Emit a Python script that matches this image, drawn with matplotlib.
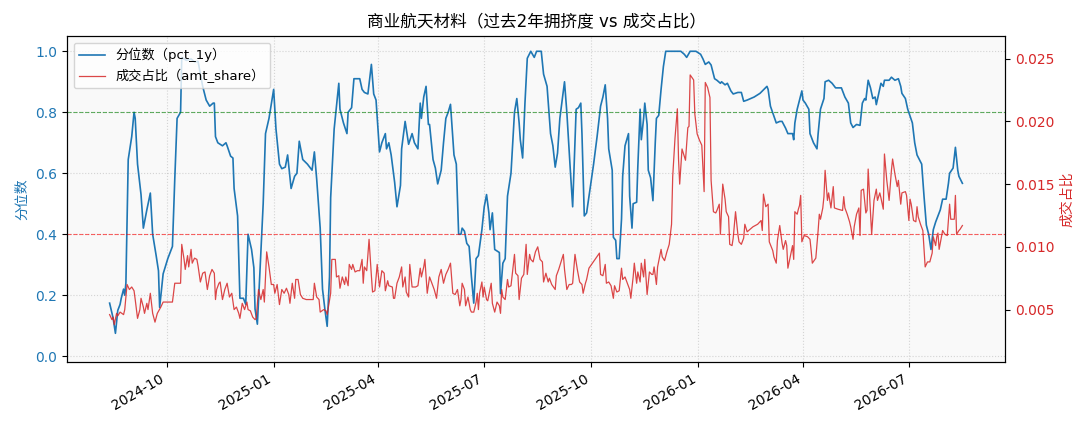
import matplotlib
matplotlib.use('Agg')
import matplotlib.pyplot as plt
import matplotlib.dates as mdates
import pandas as pd

# latin glyphs from DejaVu, CJK falls through to Noto
plt.rcParams['font.family'] = ['DejaVu Sans', 'Noto Sans CJK SC']
plt.rcParams['axes.unicode_minus'] = False

# data (day offsets from the first trading day)
start = pd.Timestamp('2024-08-13')

pct_days = [0, 3, 5, 7, 9, 10, 12, 13, 14, 16, 19, 21, 22, 24, 27, 29, 32, 35, 37, 40, 42, 43, 46, 50, 54, 56, 58, 61, 62, 66,
            70, 73, 76, 80, 83, 86, 89, 90, 91, 93, 97, 100, 101, 104, 106, 107, 110, 112, 115, 117, 119, 122, 124, 125, 127, 129,
            132, 134, 137, 141, 143, 146, 148, 151, 153, 156, 159, 161, 163, 166, 170, 174, 176, 178, 181, 183, 185, 187, 189, 190,
            193, 197, 198, 201, 204, 205, 208, 210, 215, 217, 219, 222, 225, 227, 229, 232, 234, 237, 238, 240, 242, 243, 245, 247,
            250, 251, 254, 257, 260, 262, 265, 267, 268, 270, 272, 274, 275, 278, 280, 282, 285, 287, 289, 291, 293, 296, 298, 300,
            302, 303, 305, 307, 309, 311, 313, 315, 317, 320, 322, 324, 326, 327, 329, 331, 335, 336, 338, 340, 342, 345, 347, 348,
            350, 352, 353, 355, 357, 359, 362, 365, 367, 371, 373, 376, 378, 379, 381, 383, 385, 387, 389, 391, 393, 396, 398, 400,
            401, 403, 405, 406, 408, 410, 413, 416, 419, 422, 424, 426, 428, 429, 432, 433, 435, 436, 438, 440, 441, 443, 446, 447,
            449, 450, 453, 454, 456, 457, 459, 460, 462, 463, 465, 467, 469, 470, 472, 474, 476, 478, 491, 494, 496, 499, 504, 508,
            510, 512, 515, 517, 520, 522, 525, 526, 529, 531, 534, 536, 540, 543, 545, 548, 554, 559, 565, 566, 568, 571, 573, 576,
            578, 581, 583, 587, 588, 589, 591, 593, 595, 596, 598, 601, 602, 605, 608, 609, 611, 614, 615, 618, 621, 624, 629, 632,
            635, 637, 639, 642, 645, 647, 649, 650, 652, 654, 656, 658, 659, 661, 663, 665, 666, 670, 672, 675, 678, 680, 681, 684,
            686, 688, 690, 692, 694, 696, 698, 700, 702, 704, 706, 708, 710, 712, 714, 716, 719, 721, 722, 725, 727, 729, 730, 733]
pct_vals = [0.174, 0.125, 0.075, 0.15, 0.17, 0.19, 0.22, 0.20, 0.24, 0.645, 0.72, 0.80, 0.78, 0.63, 0.53, 0.42, 0.48, 0.535,
            0.40, 0.33, 0.28, 0.16, 0.27, 0.32, 0.36, 0.58, 0.78, 0.80, 0.98, 0.97, 0.975, 0.965, 0.967, 0.885, 0.84, 0.82, 0.83,
            0.83, 0.72, 0.70, 0.69, 0.70, 0.69, 0.656, 0.65, 0.55, 0.46, 0.19, 0.19, 0.17, 0.40, 0.35, 0.29, 0.155, 0.105, 0.26,
            0.50, 0.73, 0.78, 0.875, 0.745, 0.63, 0.615, 0.62, 0.66, 0.55, 0.59, 0.60, 0.705, 0.645, 0.63, 0.61, 0.67, 0.58, 0.42,
            0.22, 0.155, 0.098, 0.26, 0.52, 0.745, 0.895, 0.81, 0.765, 0.73, 0.80, 0.815, 0.91, 0.91, 0.875, 0.865, 0.86, 0.957,
            0.86, 0.84, 0.67, 0.70, 0.73, 0.68, 0.70, 0.66, 0.63, 0.57, 0.49, 0.56, 0.68, 0.77, 0.695, 0.73, 0.70, 0.68, 0.83,
            0.78, 0.85, 0.885, 0.76, 0.76, 0.645, 0.617, 0.565, 0.61, 0.70, 0.78, 0.80, 0.826, 0.66, 0.63, 0.40, 0.40, 0.42, 0.41,
            0.37, 0.36, 0.26, 0.174, 0.32, 0.33, 0.415, 0.49, 0.53, 0.47, 0.415, 0.47, 0.35, 0.34, 0.205, 0.305, 0.32, 0.525, 0.60,
            0.73, 0.80, 0.845, 0.765, 0.71, 0.65, 0.83, 0.977, 1.0, 0.98, 1.0, 1.0, 0.925, 0.885, 0.78, 0.73, 0.69, 0.62, 0.666,
            0.78, 0.84, 0.90, 0.80, 0.61, 0.49, 0.70, 0.81, 0.815, 0.83, 0.73, 0.46, 0.47, 0.55, 0.63, 0.72, 0.82, 0.85, 0.89, 0.78,
            0.68, 0.61, 0.39, 0.38, 0.32, 0.32, 0.45, 0.59, 0.69, 0.73, 0.525, 0.42, 0.50, 0.505, 0.62, 0.81, 0.71, 0.78, 0.83,
            0.76, 0.61, 0.585, 0.51, 0.70, 0.78, 0.79, 0.875, 0.95, 1.0, 1.0, 0.99, 0.98, 1.0, 1.0, 0.99, 0.975, 0.957, 0.965,
            0.955, 0.91, 0.905, 0.895, 0.90, 0.89, 0.895, 0.87, 0.86, 0.865, 0.865, 0.836, 0.84, 0.85, 0.862, 0.885, 0.875, 0.82,
            0.787, 0.765, 0.77, 0.77, 0.748, 0.73, 0.73, 0.71, 0.765, 0.81, 0.84, 0.87, 0.84, 0.83, 0.81, 0.73, 0.70, 0.68, 0.73,
            0.81, 0.845, 0.90, 0.905, 0.895, 0.88, 0.88, 0.85, 0.83, 0.765, 0.75, 0.76, 0.757, 0.83, 0.845, 0.84, 0.905, 0.88,
            0.845, 0.85, 0.825, 0.86, 0.895, 0.885, 0.905, 0.905, 0.915, 0.905, 0.91, 0.885, 0.862, 0.845, 0.81, 0.787, 0.765,
            0.70, 0.66, 0.645, 0.63, 0.525, 0.43, 0.40, 0.35, 0.415, 0.44, 0.46, 0.48, 0.515, 0.515, 0.567, 0.60, 0.617, 0.685,
            0.61, 0.59, 0.567]

amt_days = [0, 2, 3, 4, 6, 7, 9, 12, 13, 15, 17, 19, 21, 22, 24, 26, 27, 29, 30, 32, 33, 35, 37, 39, 41, 44, 46, 50, 54, 56,
            59, 61, 62, 64, 65, 67, 68, 70, 71, 73, 75, 76, 78, 80, 82, 84, 86, 88, 90, 91, 92, 94, 95, 97, 99, 101, 103, 105,
            107, 109, 111, 112, 114, 116, 118, 119, 121, 123, 125, 126, 128, 130, 132, 133, 135, 137, 139, 141, 142, 144, 146,
            148, 150, 152, 154, 155, 157, 159, 160, 162, 164, 166, 169, 172, 175, 176, 178, 180, 181, 184, 186, 187, 190, 191,
            194, 195, 197, 198, 200, 202, 203, 205, 206, 208, 209, 211, 213, 215, 217, 218, 219, 221, 223, 225, 226, 228, 230,
            232, 234, 236, 237, 239, 240, 243, 244, 245, 247, 249, 251, 252, 254, 255, 257, 258, 260, 263, 265, 267, 268, 270,
            271, 273, 275, 277, 279, 281, 283, 285, 287, 289, 291, 293, 295, 297, 299, 301, 302, 303, 305, 306, 308, 310, 311,
            313, 315, 316, 317, 318, 320, 321, 322, 324, 325, 328, 329, 331, 333, 335, 336, 337, 338, 340, 342, 343, 345, 348,
            349, 351, 352, 354, 356, 358, 359, 361, 362, 364, 366, 368, 370, 372, 373, 375, 377, 378, 380, 383, 384, 386, 388,
            390, 391, 393, 395, 397, 398, 400, 402, 404, 406, 407, 409, 410, 412, 415, 418, 421, 422, 424, 426, 427, 429, 431,
            433, 434, 436, 438, 440, 441, 443, 445, 447, 448, 450, 451, 453, 454, 456, 457, 459, 460, 462, 464, 466, 467, 468,
            470, 471, 474, 475, 477, 479, 481, 483, 484, 486, 488, 489, 490, 492, 493, 495, 497, 498, 499, 502, 503, 505, 507,
            509, 511, 512, 514, 516, 517, 519, 521, 522, 524, 525, 527, 529, 530, 532, 533, 535, 536, 537, 538, 540, 541, 543,
            545, 546, 548, 553, 557, 560, 561, 562, 564, 566, 567, 570, 571, 573, 574, 576, 577, 578, 579, 581, 582, 583, 585,
            587, 588, 589, 591, 592, 593, 594, 595, 597, 600, 602, 603, 604, 607, 609, 610, 611, 613, 614, 615, 617, 618, 620,
            622, 623, 626, 630, 631, 632, 634, 636, 637, 639, 640, 642, 644, 645, 646, 648, 650, 651, 652, 653, 655, 657, 659,
            660, 662, 663, 665, 666, 668, 670, 672, 673, 675, 677, 678, 680, 681, 684, 685, 687, 688, 689, 691, 693, 694, 695,
            697, 699, 700, 701, 703, 705, 707, 708, 710, 711, 712, 713, 715, 716, 718, 720, 722, 723, 725, 726, 727, 728, 730,
            731, 733]
amt_vals = [0.0046, 0.0042, 0.0044, 0.0038, 0.0047, 0.0045, 0.0048, 0.0046, 0.0050, 0.0070, 0.0066, 0.0068, 0.0065, 0.0058,
            0.0043, 0.0050, 0.0059, 0.0052, 0.0047, 0.0055, 0.0050, 0.0063, 0.0047, 0.0040, 0.0047, 0.0052, 0.0056, 0.0056,
            0.0056, 0.0071, 0.0071, 0.0071, 0.0102, 0.0090, 0.0082, 0.0093, 0.0084, 0.0098, 0.0087, 0.0091, 0.0090, 0.0085,
            0.0072, 0.0079, 0.0080, 0.0066, 0.0077, 0.0082, 0.0079, 0.0058, 0.0066, 0.0071, 0.0072, 0.0058, 0.0066, 0.0071,
            0.0060, 0.0063, 0.0050, 0.0052, 0.0047, 0.0043, 0.0055, 0.0050, 0.0056, 0.0050, 0.0049, 0.0044, 0.0042, 0.0043,
            0.0066, 0.0058, 0.0066, 0.0056, 0.0096, 0.0084, 0.0070, 0.0070, 0.0063, 0.0070, 0.0054, 0.0066, 0.0063, 0.0067,
            0.0062, 0.0055, 0.0071, 0.0059, 0.0074, 0.0074, 0.0062, 0.0059, 0.0058, 0.0058, 0.0058, 0.0071, 0.0060, 0.0058,
            0.0048, 0.0050, 0.0049, 0.0046, 0.0063, 0.0090, 0.0090, 0.0076, 0.0077, 0.0067, 0.0076, 0.0070, 0.0076, 0.0069,
            0.0086, 0.0082, 0.0086, 0.0080, 0.0081, 0.0081, 0.0090, 0.0071, 0.0084, 0.0081, 0.0106, 0.0077, 0.0064, 0.0065,
            0.0086, 0.0068, 0.0081, 0.0079, 0.0065, 0.0073, 0.0069, 0.0068, 0.0059, 0.0059, 0.0071, 0.0076, 0.0084, 0.0068,
            0.0076, 0.0064, 0.0060, 0.0086, 0.0068, 0.0068, 0.0069, 0.0083, 0.0076, 0.0084, 0.0090, 0.0063, 0.0076, 0.0071,
            0.0066, 0.0059, 0.0076, 0.0082, 0.0071, 0.0078, 0.0082, 0.0087, 0.0063, 0.0062, 0.0066, 0.0053, 0.0058, 0.0071,
            0.0066, 0.0053, 0.0060, 0.0050, 0.0048, 0.0048, 0.0056, 0.0063, 0.0050, 0.0063, 0.0072, 0.0060, 0.0068, 0.0058,
            0.0057, 0.0071, 0.0055, 0.0048, 0.0056, 0.0053, 0.0047, 0.0066, 0.0060, 0.0058, 0.0074, 0.0068, 0.0069, 0.0094,
            0.0079, 0.0077, 0.0058, 0.0075, 0.0078, 0.0102, 0.0078, 0.0094, 0.0090, 0.0088, 0.0096, 0.0100, 0.0090, 0.0088,
            0.0072, 0.0079, 0.0072, 0.0075, 0.0070, 0.0066, 0.0077, 0.0082, 0.0088, 0.0094, 0.0082, 0.0066, 0.0070, 0.0070,
            0.0071, 0.0094, 0.0082, 0.0072, 0.0070, 0.0063, 0.0071, 0.0074, 0.0083, 0.0087, 0.0091, 0.0095, 0.0078, 0.0077,
            0.0086, 0.0071, 0.0072, 0.0069, 0.0059, 0.0069, 0.0064, 0.0065, 0.0083, 0.0074, 0.0076, 0.0071, 0.0066, 0.0059,
            0.0076, 0.0087, 0.0071, 0.0080, 0.0072, 0.0087, 0.0076, 0.0090, 0.0062, 0.0080, 0.0078, 0.0078, 0.0084, 0.0070,
            0.0084, 0.0098, 0.0092, 0.0089, 0.0096, 0.0102, 0.0118, 0.0156, 0.0187, 0.0210, 0.0170, 0.0150, 0.0178, 0.0175,
            0.0169, 0.0195, 0.0196, 0.0237, 0.0233, 0.0206, 0.0190, 0.0185, 0.0181, 0.0144, 0.0231, 0.0227, 0.0219, 0.0153,
            0.0128, 0.0127, 0.0129, 0.0134, 0.0110, 0.0150, 0.0138, 0.0128, 0.0124, 0.0102, 0.0101, 0.0107, 0.0118, 0.0128,
            0.0110, 0.0104, 0.0102, 0.0107, 0.0118, 0.0112, 0.0116, 0.0118, 0.0121, 0.0113, 0.0142, 0.0132, 0.0134, 0.0104,
            0.0097, 0.0092, 0.0087, 0.0105, 0.0117, 0.0110, 0.0103, 0.0098, 0.0105, 0.0101, 0.0083, 0.0092, 0.0101, 0.0090,
            0.0128, 0.0126, 0.0130, 0.0133, 0.0141, 0.0104, 0.0109, 0.0108, 0.0106, 0.0097, 0.0087, 0.0091, 0.0113, 0.0126,
            0.0122, 0.0131, 0.0140, 0.0161, 0.0137, 0.0143, 0.0131, 0.0148, 0.0131, 0.0130, 0.0129, 0.0140, 0.0131, 0.0126,
            0.0120, 0.0116, 0.0106, 0.0116, 0.0126, 0.0131, 0.0109, 0.0145, 0.0146, 0.0127, 0.0129, 0.0162, 0.0145, 0.0110,
            0.0137, 0.0146, 0.0137, 0.0143, 0.0139, 0.0130, 0.0174, 0.0153, 0.0137, 0.0161, 0.0170, 0.0158, 0.0148, 0.0153,
            0.0134, 0.0143, 0.0144, 0.0141, 0.0121, 0.0138, 0.0134, 0.0121, 0.0120, 0.0132, 0.0124, 0.0118, 0.0113, 0.0098,
            0.0084, 0.0088, 0.0088, 0.0095, 0.0108, 0.0101, 0.0108, 0.0111, 0.0098, 0.0108, 0.0113, 0.0110, 0.0109, 0.0134,
            0.0122, 0.0122, 0.0122, 0.0141, 0.0110, 0.0113, 0.0114, 0.0117]

pct_dates = start + pd.to_timedelta(pct_days, unit='D')
amt_dates = start + pd.to_timedelta(amt_days, unit='D')

fig, ax1 = plt.subplots(figsize=(10.89, 4.29), dpi=100)
fig.subplots_adjust(left=0.0615, right=0.9229, top=0.916, bottom=0.1555)
ax1.set_facecolor('#f9f9f9')

l1, = ax1.plot(pct_dates, pct_vals, color='tab:blue', lw=1.2)
ax1.axhline(0.8, color='green', ls='--', lw=0.8, alpha=0.6)
ax1.axhline(0.4, color='red', ls='--', lw=0.8, alpha=0.6)
ax1.set_ylim(-0.02, 1.05)
ax1.set_ylabel('分位数', color='tab:blue')
ax1.tick_params(axis='y', labelcolor='tab:blue')
ax1.grid(True, ls=':', alpha=0.5)

ax2 = ax1.twinx()
l2, = ax2.plot(amt_dates, amt_vals, color='tab:red', lw=0.9, alpha=0.85)
ax2.set_ylim(0.0008, 0.0268)
ax2.set_ylabel('成交占比', color='tab:red')
ax2.tick_params(axis='y', labelcolor='tab:red')

ax1.xaxis.set_major_locator(mdates.MonthLocator(bymonth=[1, 4, 7, 10]))
ax1.xaxis.set_major_formatter(mdates.DateFormatter('%Y-%m'))
plt.setp(ax1.get_xticklabels(), rotation=30, ha='right')

ax2.legend([l1, l2], ['分位数（pct_1y）', '成交占比（amt_share）'], loc='upper left', fontsize=9.5)
ax1.set_title('商业航天材料（过去2年拥挤度 vs 成交占比）')

fig.savefig('out.png', dpi=100)
